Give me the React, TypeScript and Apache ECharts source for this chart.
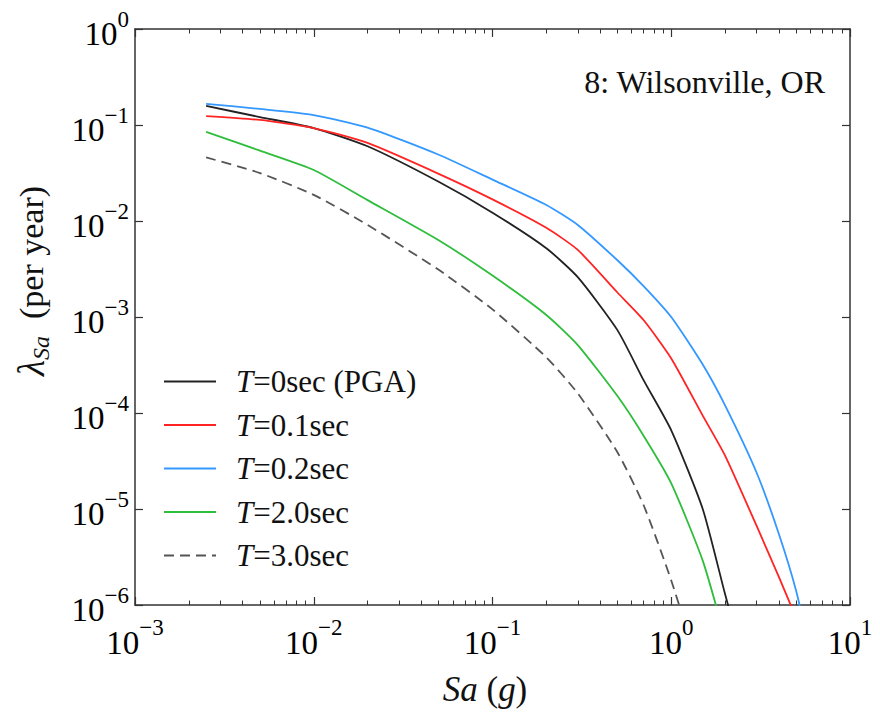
import React, { useEffect, useRef } from "react";
import * as echarts from "echarts";

// Spectral acceleration grid (g)
const saValues = [0.0025, 0.005, 0.01, 0.02, 0.05, 0.1, 0.2, 0.3, 0.5, 0.7, 1.0, 1.5, 2.0, 3.0, 4.0, 5.0, 6.0];

// Annual rate of exceedance (per year) for each period
const pgaRates = [0.158, 0.121, 0.093, 0.060, 0.0256, 0.0122, 0.0052, 0.0026, 7.3e-4, 2.2e-4, 6.6e-5, 1.0e-5, 1.3e-6, 8e-8, null, null, null];
const t01Rates = [0.124, 0.113, 0.093, 0.065, 0.031, 0.0168, 0.0085, 0.0050, 0.0018, 9.3e-4, 3.7e-4, 9.4e-5, 3.6e-5, 6.7e-6, 1.96e-6, 7.3e-7, null];
const t02Rates = [0.166, 0.147, 0.127, 0.094, 0.049, 0.027, 0.0147, 0.0091, 0.0039, 0.0021, 1.0e-3, 3.2e-4, 1.2e-4, 2.4e-5, 5.5e-6, 1.4e-6, 3.1e-7];
const t20Rates = [0.085, 0.054, 0.034, 0.0165, 0.0063, 0.0027, 0.00105, 5.1e-4, 1.5e-4, 5.8e-5, 1.85e-5, 2.9e-6, 4.5e-7, null, null, null, null];
const t30Rates = [0.046, 0.0316, 0.0187, 0.0091, 0.0031, 0.0012, 3.8e-4, 1.6e-4, 3.9e-5, 1.1e-5, 1.8e-6, 1.6e-7, null, null, null, null, null];

const seriesNames = ["T=0sec (PGA)", "T=0.1sec", "T=0.2sec", "T=2.0sec", "T=3.0sec"];
const seriesColors = ["#222222", "#ff2424", "#3398ff", "#2fbd3c", "#555555"];
const seriesRates = [pgaRates, t01Rates, t02Rates, t20Rates, t30Rates];

const siteTitle = "8: Wilsonville, OR";

const FONT = "Liberation Serif, DejaVu Serif, serif";

function expLabel(v: number): string {
  const e = Math.round(Math.log10(v));
  const s = e < 0 ? "\u2212" + Math.abs(e) : String(e);
  return "{b|10}{s|" + s + "}";
}

const tickRich = {
  b: { fontSize: 33, fontFamily: FONT, color: "#000", padding: [10, 0, 0, 0], verticalAlign: "bottom" },
  s: { fontSize: 23, fontFamily: FONT, color: "#000", verticalAlign: "top" },
};

export default function App() {
  const ref = useRef<HTMLDivElement>(null);

  useEffect(() => {
    if (!ref.current) return;
    const chart = echarts.init(ref.current, null, { renderer: "svg" });

    const yMin = 1e-6;
    const yMax = 1;

    const lineSeries: any[] = seriesNames.map((name, i) => ({
      type: "line",
      name,
      data: saValues
        .map((x, j) => [x, seriesRates[i][j]])
        .filter((p) => p[1] !== null),
      symbol: "none",
      showSymbol: false,
      smooth: 0.2,
      clip: true,
      lineStyle: {
        color: seriesColors[i],
        width: 1.8,
        type: i === 4 ? [10, 6] : "solid",
      },
      itemStyle: { color: seriesColors[i] },
      xAxisIndex: 0,
      yAxisIndex: 0,
    }));

    const axisLine = { show: true, lineStyle: { color: "#333", width: 1.5 } };
    const majorTick = { show: true, inside: true, length: 8, lineStyle: { color: "#333", width: 1.2 } };
    const minorTick = { show: true, splitNumber: 9, length: 4.5, lineStyle: { color: "#333", width: 1 } };

    const textGraphics: any[] = [
      {
        type: "text",
        x: 825,
        y: 82,
        style: {
          text: siteTitle,
          fontFamily: FONT,
          fontSize: 32,
          fill: "#111",
          align: "right",
          verticalAlign: "middle",
        },
      },
      {
        type: "text",
        x: 485,
        y: 689,
        style: {
          text: "{i|Sa} ({i|g})",
          fontFamily: FONT,
          fontSize: 35,
          fill: "#111",
          align: "center",
          verticalAlign: "middle",
          rich: {
            i: { fontFamily: FONT, fontSize: 35, fontStyle: "italic", fill: "#111" },
          },
        },
      },
      {
        type: "text",
        x: 31,
        y: 281,
        rotation: Math.PI / 2,
        style: {
          text: "{l|\u03bb}{s|Sa}{p|  (per year)}",
          fontFamily: FONT,
          fontSize: 34,
          fill: "#111",
          align: "center",
          verticalAlign: "middle",
          rich: {
            l: { fontFamily: FONT, fontSize: 37, fontStyle: "italic", fill: "#111", verticalAlign: "middle" },
            s: { fontFamily: FONT, fontSize: 24, fontStyle: "italic", fill: "#111", padding: [19, 0, 0, 0], verticalAlign: "bottom" },
            p: { fontFamily: FONT, fontSize: 34, fill: "#111", verticalAlign: "middle" },
          },
        },
      },
    ];

    chart.setOption({
      animation: false,
      backgroundColor: "#fff",
      grid: { left: 135, right: 30, top: 29, bottom: 107, containLabel: false },
      xAxis: [
        {
          type: "log",
          logBase: 10,
          min: 0.001,
          max: 10,
          splitNumber: 4,
          position: "bottom",
          axisLine,
          axisTick: majorTick,
          minorTick,
          splitLine: { show: false },
          minorSplitLine: { show: false },
          axisLabel: { show: true, margin: 11, formatter: expLabel, rich: tickRich },
        },
        {
          type: "log",
          logBase: 10,
          min: 0.001,
          max: 10,
          splitNumber: 4,
          position: "top",
          axisLine,
          axisTick: majorTick,
          minorTick,
          splitLine: { show: false },
          minorSplitLine: { show: false },
          axisLabel: { show: false },
        },
      ],
      yAxis: [
        {
          type: "log",
          logBase: 10,
          min: yMin,
          max: yMax,
          splitNumber: 6,
          position: "left",
          axisLine,
          axisTick: majorTick,
          minorTick: { show: false },
          splitLine: { show: false },
          axisLabel: { show: true, margin: 6, formatter: expLabel, rich: tickRich },
        },
        {
          type: "log",
          logBase: 10,
          min: yMin,
          max: yMax,
          splitNumber: 6,
          position: "right",
          axisLine,
          axisTick: majorTick,
          minorTick: { show: false },
          splitLine: { show: false },
          axisLabel: { show: false },
        },
      ],
      legend: {
        orient: "vertical",
        left: 163,
        top: 366,
        padding: 0,
        itemWidth: 52,
        itemHeight: 14,
        itemGap: 12.5,
        itemStyle: { opacity: 0 },
        data: seriesNames,
        formatter: (name: string) => "{i|T}{r|" + name.slice(1) + "}",
        textStyle: {
          fontFamily: FONT,
          fontSize: 31,
          color: "#111",
          lineHeight: 31,
          padding: [0, 0, 0, 15],
          rich: {
            i: { fontFamily: FONT, fontSize: 31, fontStyle: "italic", color: "#111", lineHeight: 31 },
            r: { fontFamily: FONT, fontSize: 31, color: "#111", lineHeight: 31 },
          },
        },
      },
      graphic: textGraphics,
      series: lineSeries,
    });

    return () => chart.dispose();
  }, []);

  return (
    <div
      ref={ref}
      style={{ position: "absolute", left: 0, top: 0, width: 880, height: 712, background: "#fff" }}
    />
  );
}
